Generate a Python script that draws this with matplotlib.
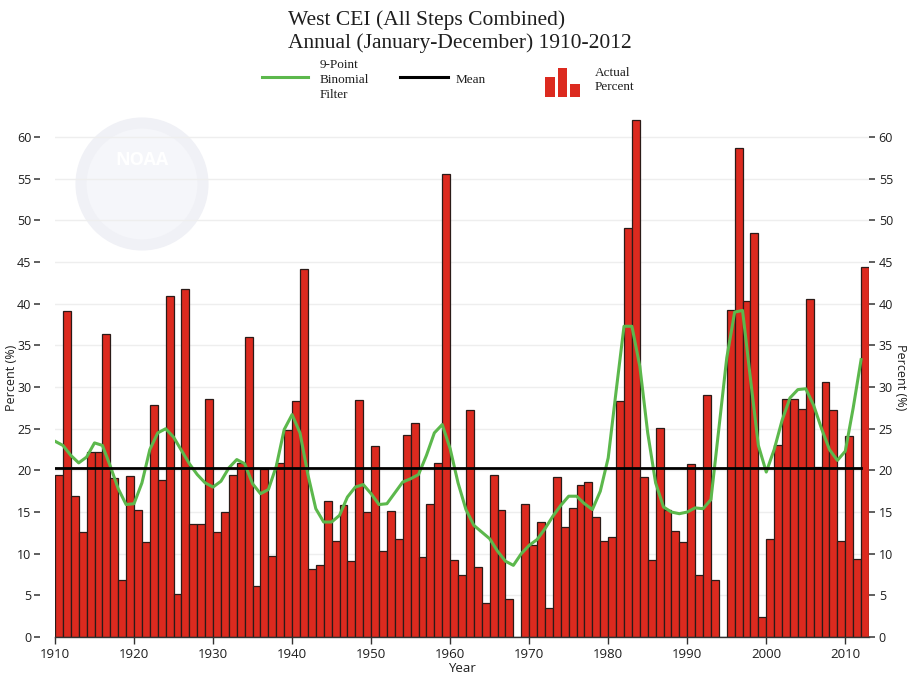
import matplotlib
matplotlib.use("Agg")
import matplotlib.pyplot as plt
from matplotlib.patches import Ellipse, Rectangle
from matplotlib.lines import Line2D

# annual percent, 1910-2012 (1968 and 1994 have no bar)
years = list(range(1910, 2013))
percent = [
    19.5, 39.1, 16.9, 12.6, 22.2, 22.2, 36.4, 19.1, 6.9, 19.3,    # 1910s
    15.2, 11.4, 27.8, 18.9, 40.9, 5.2, 41.8, 13.6, 13.6, 28.6,    # 1920s
    12.6, 15.0, 19.5, 20.9, 36.0, 6.1, 20.2, 9.7, 20.9, 24.9,     # 1930s
    28.3, 44.2, 8.2, 8.7, 16.3, 11.5, 15.8, 9.1, 28.4, 15.0,      # 1940s
    22.9, 10.3, 15.1, 11.8, 24.3, 25.7, 9.6, 16.0, 20.9, 55.6,    # 1950s
    9.3, 7.4, 27.3, 8.4, 4.1, 19.4, 15.2, 4.6, 0.0, 16.0,         # 1960s
    11.0, 13.8, 3.5, 19.2, 13.2, 15.5, 18.3, 18.6, 14.4, 11.5,    # 1970s
    12.0, 28.3, 49.1, 62.1, 19.2, 9.2, 25.1, 15.3, 12.7, 11.4,    # 1980s
    20.8, 7.4, 29.1, 6.8, 0.0, 39.2, 58.7, 40.3, 48.5, 2.4,       # 1990s
    11.8, 23.0, 28.6, 28.6, 27.4, 40.6, 20.4, 30.6, 27.3, 11.5,   # 2000s
    24.1, 9.4, 44.4,
]
# 9-point binomial filter curve
binomial = [
    23.5, 23.0, 21.8, 20.9, 21.6, 23.3, 23.0, 20.5, 17.8, 15.9,
    16.0, 18.5, 22.5, 24.5, 25.0, 24.0, 22.4, 20.8, 19.5, 18.5,
    18.0, 18.7, 20.3, 21.3, 20.8, 18.4, 17.2, 17.7, 20.5, 24.9,
    26.7, 24.5, 19.5, 15.4, 13.8, 13.8, 14.6, 16.8, 18.0, 18.3,
    17.2, 15.9, 16.0, 17.3, 18.6, 19.0, 19.5, 21.8, 24.5, 25.5,
    22.6, 18.5, 15.3, 13.4, 12.6, 11.8, 10.3, 9.1, 8.6, 10.0,
    11.0, 11.7, 13.0, 14.5, 15.8, 16.9, 16.9, 16.0, 15.3, 17.5,
    21.5, 29.5, 37.3, 37.3, 32.5, 24.5, 18.5, 15.6, 15.0, 14.8,
    15.0, 15.5, 15.4, 16.5, 25.0, 33.5, 39.0, 39.2, 31.0, 23.0,
    19.8, 22.5, 26.0, 28.7, 29.7, 29.8, 27.8, 25.0, 22.5, 21.2,
    22.3, 27.5, 33.3,
]
mean_pct = 20.3
yticks = list(range(0, 65, 5))
xticks = list(range(1910, 2020, 10))

RED = "#dc2a1f"
GREEN = "#5cb84c"
TEXT = "#1e1e1e"
SERIF = ["Liberation Serif", "DejaVu Serif"]
SANS = ["Open Sans", "DejaVu Sans"]

fig = plt.figure(figsize=(9.15, 6.77), dpi=100)
ax = fig.add_axes([55 / 915, 1 - 637 / 677, 814 / 915, (637 - 118) / 677])


def fx(px):
    return px / 915


def fy(py):
    return 1 - py / 677


# faint seal in the upper left corner
fig.add_artist(Ellipse((fx(142), fy(184)), 122 / 915, 122 / 677,
                       transform=fig.transFigure, facecolor="#f5f6fa",
                       edgecolor="#f0f1f6", lw=8, zorder=0))
fig.text(fx(142), fy(160), "NOAA", color="#ffffff", fontsize=13,
         ha="center", va="center", family=SANS, weight="bold", zorder=0.5)

ax.set_facecolor("none")
ax.bar(years, percent, width=1.0, align="edge", color=RED,
       edgecolor="#2b1b18", linewidth=0.9, zorder=2)
ax.plot(years, binomial, color=GREEN, lw=2.2, zorder=3)
ax.plot([years[0], years[-1]], [mean_pct, mean_pct], color="black", lw=2.0, zorder=4)

ax.set_xlim(1910, 2013)
ax.set_ylim(0, 62.3)
ax.set_yticks(yticks)
ax.set_xticks(xticks)
ax.yaxis.grid(True, color="#eeeeee", lw=1.0)
ax.set_axisbelow(True)

for side in ["top", "right"]:
    ax.spines[side].set_visible(False)
ax.spines["left"].set_position(("outward", 11))
ax.spines["left"].set_visible(False)
ax.spines["bottom"].set_color("#333333")
ax.spines["bottom"].set_linewidth(1.0)

ax.tick_params(axis="y", direction="out", length=4, width=1.2, color="#444444",
               pad=2, labelsize=9, labelcolor=TEXT)
ax.tick_params(axis="x", direction="out", length=5, width=1.0, color="#333333",
               pad=3, labelsize=9.5, labelcolor=TEXT)
for lab in ax.get_xticklabels() + ax.get_yticklabels():
    lab.set_family(SANS)

ax.set_ylabel("Percent (%)", fontsize=9, family=SANS, color=TEXT)
ax.yaxis.set_label_coords((18 - 55) / 814, 0.5)
ax.set_xlabel("Year", fontsize=9.5, family=SANS, color=TEXT, labelpad=1)

axr = ax.twinx()
axr.set_ylim(ax.get_ylim())
axr.set_yticks(yticks)
for side in axr.spines:
    axr.spines[side].set_visible(False)
axr.tick_params(axis="y", direction="out", length=4, width=1.2, color="#444444",
                pad=3, labelsize=9, labelcolor=TEXT)
for lab in axr.get_yticklabels():
    lab.set_family(SANS)
axr.set_ylabel("Percent (%)", fontsize=9, family=SANS, color=TEXT, rotation=-90)
axr.yaxis.set_label_coords((907 - 55) / 814, 0.5)

# title
fig.text(fx(288), fy(20), "West CEI (All Steps Combined)", fontsize=15.5,
         family=SERIF, color=TEXT, ha="left", va="center")
fig.text(fx(288), fy(43), "Annual (January-December) 1910-2012", fontsize=15.5,
         family=SERIF, color=TEXT, ha="left", va="center")

# legend drawn by hand in figure pixels
fig.add_artist(Line2D([fx(262), fx(308)], [fy(77), fy(77)], color=GREEN, lw=2.2,
                      transform=fig.transFigure))
fig.text(fx(320), fy(80), "9-Point\nBinomial\nFilter", fontsize=9.5, family=SERIF,
         color=TEXT, ha="left", va="center", linespacing=1.3)
fig.add_artist(Line2D([fx(400), fx(448)], [fy(77), fy(77)], color="black", lw=2.2,
                      transform=fig.transFigure))
fig.text(fx(456), fy(80), "Mean", fontsize=9.5, family=SERIF, color=TEXT,
         ha="left", va="center")
for x0, x1, top in [(545, 555, 77), (558, 567, 68), (570, 580, 84)]:
    fig.add_artist(Rectangle((fx(x0), fy(97)), fx(x1) - fx(x0), fy(top) - fy(97),
                             transform=fig.transFigure, color=RED, lw=0))
fig.text(fx(595), fy(80), "Actual\nPercent", fontsize=9.5, family=SERIF,
         color=TEXT, ha="left", va="center", linespacing=1.3)

fig.savefig("out.png", dpi=100)
